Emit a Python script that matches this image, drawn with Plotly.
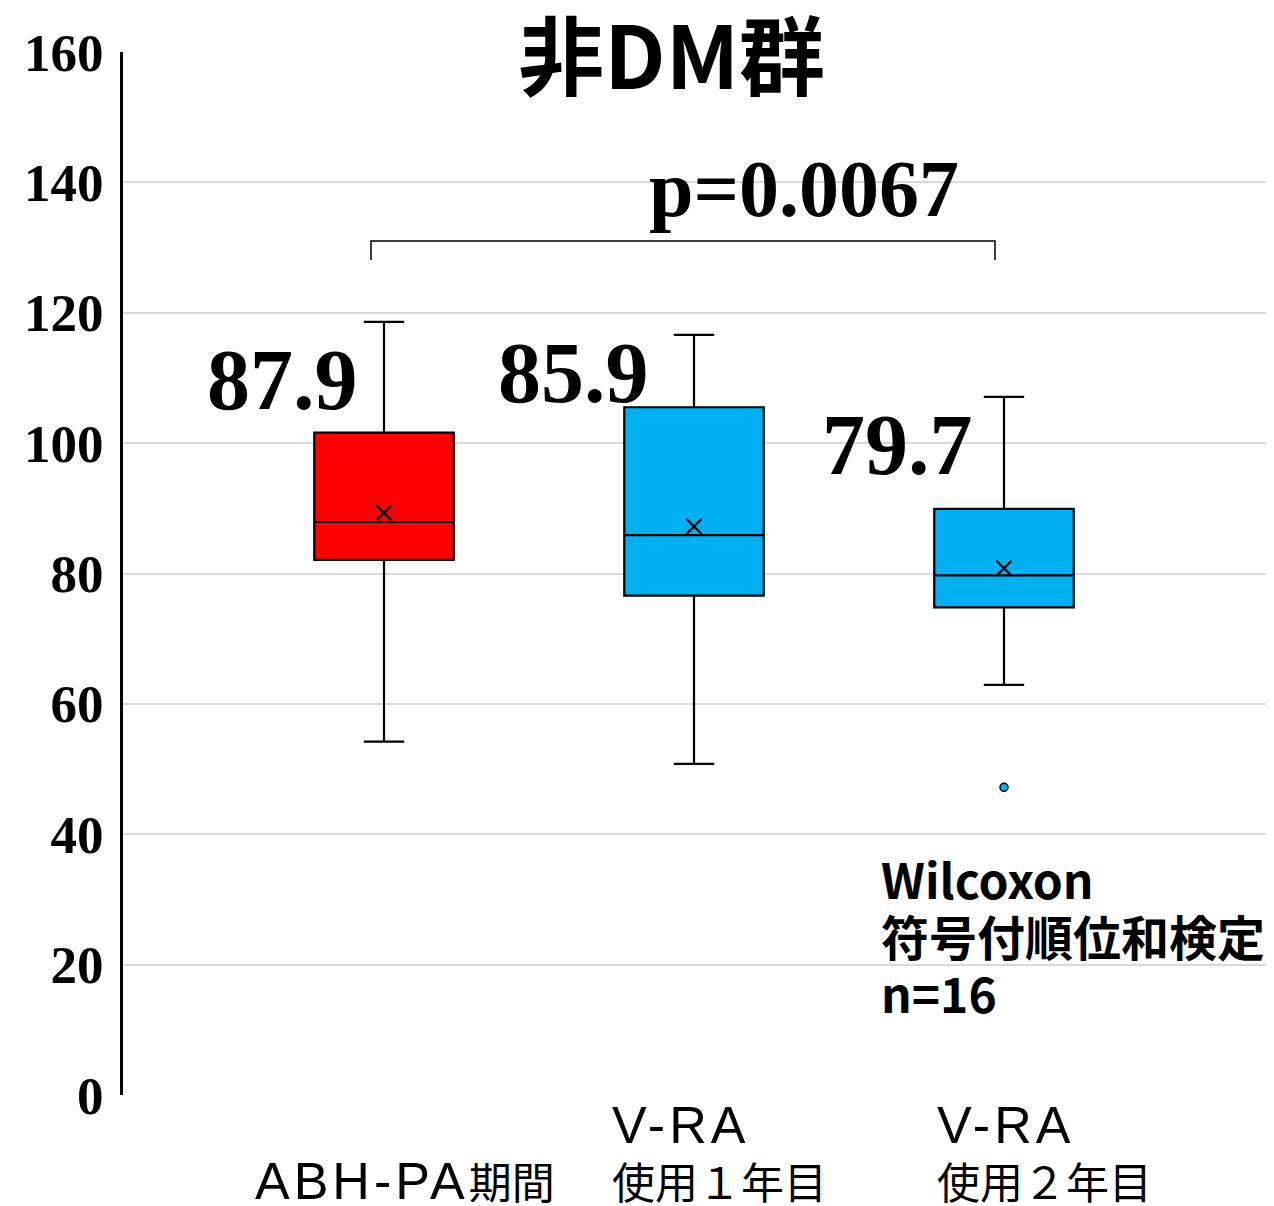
import plotly.graph_objects as go

# box statistics
categories = ["ABH-PA期間", "V-RA 使用１年目", "V-RA 使用２年目"]
upper_whisker = [118.6, 116.6, 107.1]
q3 = [101.6, 105.5, 89.9]
median = [87.9, 85.9, 79.7]
q1 = [82.1, 76.6, 74.8]
lower_whisker = [54.2, 50.8, 62.9]
means = [89.3, 87.2, 80.8]
outlier_x = [2]
outlier_y = [47.2]
median_labels = ["87.9", "85.9", "79.7"]
colors = ["#FF0000", "#00B0F0", "#00B0F0"]

xpos = [0, 1, 2]

fig = go.Figure()

for i in range(3):
    fig.add_trace(go.Box(
        x=[xpos[i]], q1=[q1[i]], median=[median[i]], q3=[q3[i]],
        lowerfence=[lower_whisker[i]], upperfence=[upper_whisker[i]],
        width=0.45, whiskerwidth=0.29,
        fillcolor=colors[i], line=dict(color="black", width=2.2),
        name=categories[i], showlegend=False, boxpoints=False,
    ))

# mean markers
fig.add_trace(go.Scatter(
    x=xpos, y=means, mode="markers", showlegend=False,
    marker=dict(symbol="x-thin", size=15, line=dict(color="black", width=2.2)),
))

# outlier
fig.add_trace(go.Scatter(
    x=outlier_x, y=outlier_y, mode="markers", showlegend=False,
    marker=dict(symbol="circle", size=8, color="#00B0F0", line=dict(color="black", width=1.5)),
))

# median value labels
label_x = [-0.326, 0.61, 1.655]
label_y = [109.7, 110.8, 99.7]
for lx, ly, t in zip(label_x, label_y, median_labels):
    fig.add_annotation(x=lx, y=ly, text=t, showarrow=False,
                       font=dict(family="Liberation Serif", size=86, color="black", weight="bold"))

# significance bracket
fig.add_shape(type="path", path="M -0.042,128.1 L -0.042,131.0 L 1.971,131.0 L 1.971,128.1",
              line=dict(color="black", width=1.5))
fig.add_annotation(x=1.355, y=139.0, text="p=0.0067", showarrow=False,
                   font=dict(family="Liberation Serif", size=80, color="black", weight="bold"))

# test note
note = "<br>".join('<span style="font-size:48px">%s</span>' % s
                   for s in ["Wilcoxon", "符号付順位和検定", "n=16"])
fig.add_annotation(x=1.598, y=24.6, text=note,
                   showarrow=False, xanchor="left", yanchor="middle", align="left",
                   font=dict(family="Noto Sans CJK JP", size=44, color="black", weight="bold"))

# category labels
def latin(s):
    return ('<span style="font-family:Liberation Sans;font-size:52px;'
            'letter-spacing:4px">%s</span>' % s)

label_font = dict(family="Noto Sans CJK JP", size=43, color="black")
fig.add_annotation(x=0.068, y=-0.1132, yref="paper", text=latin("ABH-PA") + "期間",
                   showarrow=False, font=label_font)
for x0, l2 in [(0.729, "使用１年目"), (1.777, "使用２年目")]:
    fig.add_annotation(x=x0, y=-0.1136, yref="paper", text=latin("V-RA") + "<br>" + l2,
                       showarrow=False, xanchor="left", align="left", font=label_font)

fig.update_layout(
    width=1274, height=1206,
    margin=dict(l=115, r=8, t=44, b=119),
    plot_bgcolor="white", paper_bgcolor="white",
    title=dict(text="非DM群", x=0.521, xanchor="center", y=0.958, yanchor="middle",
               font=dict(family="Noto Sans CJK JP", size=86, color="black", weight="bold")),
    xaxis=dict(range=[-0.842, 2.871], showticklabels=False, showgrid=False,
               zeroline=False, showline=False),
    yaxis=dict(range=[0, 160], dtick=20, tick0=0, showgrid=True, gridcolor="#D9D9D9",
               gridwidth=2, zeroline=False, showline=True, linecolor="black", linewidth=3,
               ticks="", ticklabelstandoff=6,
               tickfont=dict(family="Liberation Serif", size=53, color="black", weight="bold")),
)

fig.write_html("out.html")
